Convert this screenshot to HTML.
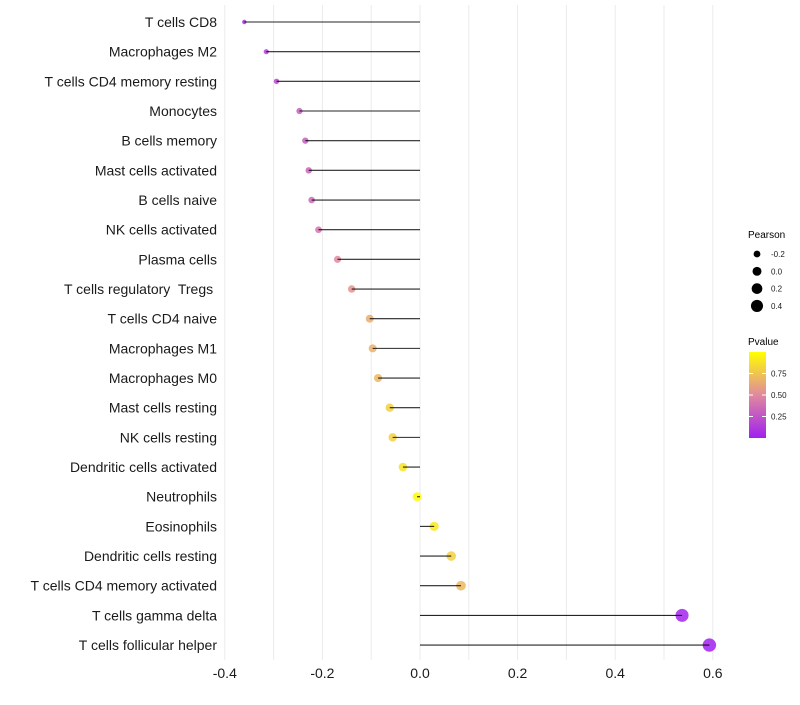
<!DOCTYPE html>
<html><head><meta charset="utf-8"><style>
body{margin:0;background:#fff}
svg text{font-family:"Liberation Sans",Arial,sans-serif;white-space:pre}
</style></head><body>
<svg id="chart" width="800" height="700">
<defs><linearGradient id="pg" x1="0" y1="1" x2="0" y2="0">
<stop offset="0" stop-color="#a020f0"/><stop offset="0.5" stop-color="#e0899f"/><stop offset="1" stop-color="#ffff00"/>
</linearGradient></defs>
<g id="grid"></g>
<g id="marks"></g>
<g id="stems"></g>
<g id="labels"></g>
<g id="xaxis"></g>
<g>
<text x="748" y="238" font-size="10">Pearson</text>
<g id="sizeleg"></g>
</g>
<g>
<text x="748" y="345" font-size="10">Pvalue</text>
<rect x="749" y="352" width="17" height="86" fill="url(#pg)"/>
<g id="colleg"></g>
</g>
</svg>
<script>
const categories=["T cells CD8","Macrophages M2","T cells CD4 memory resting","Monocytes","B cells memory","Mast cells activated","B cells naive","NK cells activated","Plasma cells","T cells regulatory  Tregs ","T cells CD4 naive","Macrophages M1","Macrophages M0","Mast cells resting","NK cells resting","Dendritic cells activated","Neutrophils","Eosinophils","Dendritic cells resting","T cells CD4 memory activated","T cells gamma delta","T cells follicular helper"];
const pearson=[-0.36,-0.315,-0.294,-0.247,-0.235,-0.228,-0.222,-0.208,-0.169,-0.14,-0.103,-0.097,-0.086,-0.062,-0.056,-0.035,-0.006,0.029,0.064,0.084,0.537,0.593];
const pvalue=[0.05,0.15,0.2,0.3,0.3,0.33,0.35,0.4,0.5,0.55,0.65,0.67,0.7,0.8,0.8,0.88,0.98,0.9,0.8,0.7,0.02,0.01];
const xTicks=[-0.4,-0.2,0.0,0.2,0.4,0.6];
const xTickLabels=["-0.4","-0.2","0.0","0.2","0.4","0.6"];
const sizeLegend=[-0.2,0.0,0.2,0.4];
const colorTicks=[0.25,0.5,0.75];

const NS="http://www.w3.org/2000/svg";
const x=v=>420+v*488;
const y=i=>22+i*29.67;
const r=v=>Math.sqrt(Math.max(3,20+42*v));
function lerp(a,b,t){return a.map((c,i)=>Math.round(c+(b[i]-c)*t));}
function col(p){const s0=[160,32,240],s1=[224,137,159],s2=[255,255,0];
 const c=p<0.5?lerp(s0,s1,p/0.5):lerp(s1,s2,(p-0.5)/0.5);return `rgb(${c})`;}
function mk(tag,attrs,parent){const e=document.createElementNS(NS,tag);for(const k in attrs)e.setAttribute(k,attrs[k]);parent.appendChild(e);return e;}
const grid=document.getElementById('grid'),marks=document.getElementById('marks'),stems=document.getElementById('stems'),labels=document.getElementById('labels'),xaxis=document.getElementById('xaxis');
for(let v=-0.4;v<=0.61;v+=0.1){
 const g=mk('line',{x1:x(v),x2:x(v),y1:5,y2:660,stroke:'#ebebeb','stroke-width':1},grid);
 
 
}
categories.forEach((c,i)=>{
 const p=mk('circle',{cx:x(pearson[i]),cy:y(i),r:r(pearson[i]),fill:col(pvalue[i]),'fill-opacity':0.85},marks);
 
 
 const l=mk('line',{x1:x(0),x2:x(pearson[i]),y1:y(i),y2:y(i),stroke:'#000','stroke-opacity':0.85,'stroke-width':1.1},stems);
 
 
 const t=mk('text',{x:217,y:y(i)+5,'text-anchor':'end','font-size':14,fill:'#1a1a1a'},labels);
 t.textContent=c;
 
 
});
xTicks.forEach((v,i)=>{
 const t=mk('text',{x:x(v),y:678,'text-anchor':'middle','font-size':14,fill:'#1a1a1a'},xaxis);
 t.textContent=xTickLabels[i];
 
 
});
const sl=document.getElementById('sizeleg');
sizeLegend.forEach((v,i)=>{
 const yy=254+i*17.3;
 const c=mk('circle',{cx:757,cy:yy,r:r(v),fill:'#000'},sl);
 
 
 const t=mk('text',{x:771,y:yy+3,'font-size':8,fill:'#1a1a1a'},sl);
 t.textContent=v.toFixed(1);
 
 
});
const cl=document.getElementById('colleg');
colorTicks.forEach(v=>{
 const yy=438-v*86;
 mk('line',{x1:749,x2:753,y1:yy,y2:yy,stroke:'#fff'},cl);
 mk('line',{x1:762,x2:766,y1:yy,y2:yy,stroke:'#fff'},cl);
 const t=mk('text',{x:771,y:yy+3,'font-size':8,fill:'#1a1a1a'},cl);
 t.textContent=v.toFixed(2);
 
 
});
</script>
</body></html>
